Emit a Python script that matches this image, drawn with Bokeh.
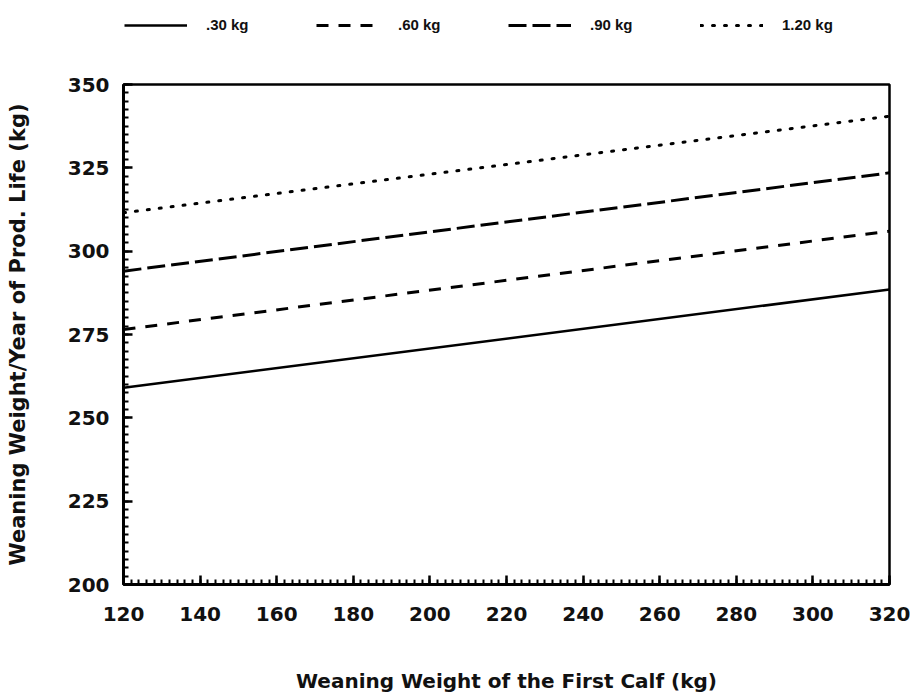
from bokeh.plotting import figure
from bokeh.layouts import column
from bokeh.models import Range1d, SingleIntervalTicker, Legend, LegendItem
from bokeh.core.properties import value
from bokeh.embed import file_html
from bokeh.resources import INLINE

# ---- data ----
first_calf_wt = [120, 320]
ww_030 = [259.0, 288.5]
ww_060 = [276.5, 306.0]
ww_090 = [294.0, 323.5]
ww_120 = [311.5, 340.5]
series_labels = [".30 kg", ".60 kg", ".90 kg", "1.20 kg"]

x_title = "Weaning Weight of the First Calf (kg)"
y_title = "Weaning Weight/Year of Prod. Life (kg)"

FONT = "DejaVu Sans"

styles = [
    dict(line_color="black", line_width=2.5),
    dict(line_color="black", line_width=3, line_dash="12 10"),
    dict(line_color="black", line_width=3, line_dash="18 6"),
    dict(line_color="black", line_width=3, line_dash="2 10", line_cap="round"),
]
series = [ww_030, ww_060, ww_090, ww_120]

LEG_H = 74
TITLE_H = 50
MAIN_H = 692 - LEG_H - TITLE_H

# ---------------- main chart ----------------
p = figure(width=910, height=MAIN_H, output_backend="svg", toolbar_location=None,
           x_range=Range1d(120, 320), y_range=Range1d(200, 350),
           min_border_left=123, min_border_right=21,
           min_border_top=10, min_border_bottom=MAIN_H - 10 - 500)

p.background_fill_color = "white"
p.border_fill_color = "white"
p.outline_line_color = "black"
p.outline_line_width = 2.5
p.xgrid.visible = False
p.ygrid.visible = False

p.xaxis.ticker = SingleIntervalTicker(interval=20, num_minor_ticks=10)
p.yaxis.ticker = SingleIntervalTicker(interval=25, num_minor_ticks=10)

for ax in (p.xaxis[0], p.yaxis[0]):
    ax.axis_line_color = "black"
    ax.axis_line_width = 3
    ax.major_tick_in = 9
    ax.major_tick_out = 0
    ax.minor_tick_in = 5
    ax.minor_tick_out = 0
    ax.major_tick_line_width = 2.5
    ax.minor_tick_line_width = 2
    ax.major_tick_line_color = "black"
    ax.minor_tick_line_color = "black"
    ax.major_label_text_font = FONT
    ax.major_label_text_font_style = "bold"
    ax.major_label_text_font_size = "20px"
    ax.major_label_text_color = "#111111"
    ax.axis_label_text_font = FONT
    ax.axis_label_text_font_style = "bold"
    ax.axis_label_text_color = "#111111"

p.yaxis.axis_label = y_title
p.yaxis.axis_label_text_font_size = "21px"
p.xaxis.major_label_standoff = 22
p.yaxis.major_label_standoff = 14
p.yaxis.axis_label_standoff = 35

for ys, st in zip(series, styles):
    p.line(first_calf_wt, ys, **st)

# ---------------- legend strip ----------------
lg = figure(width=910, height=LEG_H, output_backend="svg", toolbar_location=None,
            x_range=Range1d(0, 1), y_range=Range1d(0, 1),
            x_axis_location=None, y_axis_location=None,
            min_border=0)
lg.outline_line_color = None
lg.grid.visible = False
lg.background_fill_color = "white"
lg.border_fill_color = "white"

# proxies (same data, outside this strip's view) only used for legend glyphs
proxies = [lg.line(first_calf_wt, ys, **st) for ys, st in zip(series, styles)]
legend = Legend(items=[LegendItem(label=lab, renderers=[r]) for lab, r in zip(series_labels, proxies)],
                orientation="horizontal", location=(1, 41),
                border_line_color=None, background_fill_alpha=0,
                padding=0, margin=0, glyph_width=63, glyph_height=16,
                label_standoff=19, label_width=70, spacing=40, label_height=16,
                label_text_font="Liberation Sans", label_text_font_style="bold",
                label_text_font_size="15px", label_text_color="#111111")
lg.add_layout(legend, "center")

# ---------------- x-axis title strip ----------------
tt = figure(width=910, height=TITLE_H, output_backend="svg", toolbar_location=None,
            x_range=Range1d(0, 1), y_range=Range1d(0, TITLE_H),
            x_axis_location=None, y_axis_location=None,
            min_border=0)
tt.outline_line_color = None
tt.grid.visible = False
tt.background_fill_color = "white"
tt.border_fill_color = "white"
tt.text(x=[0.5], y=[12], text=[x_title], text_align="center", text_baseline="middle",
        text_font=value(FONT), text_font_style="bold", text_font_size="20px",
        text_color="#111111")

layout = column(lg, p, tt, spacing=0)
open("out.html", "w").write(file_html(layout, INLINE))
